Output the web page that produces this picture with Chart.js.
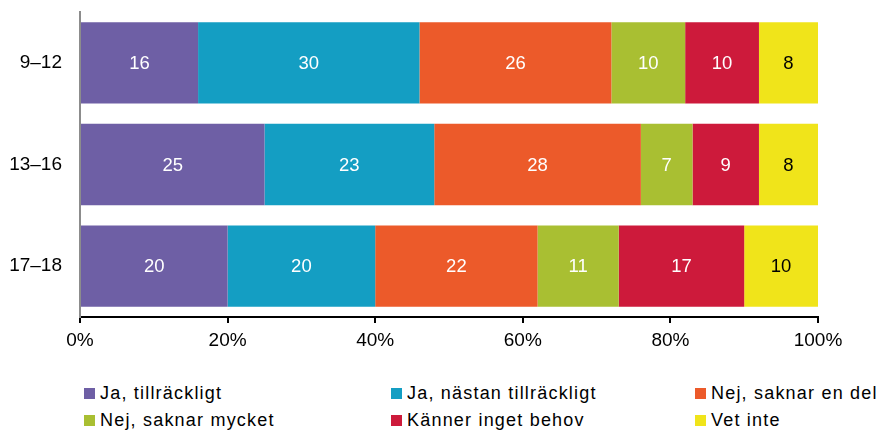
<!DOCTYPE html>
<html>
<head>
<meta charset="utf-8">
<script src="https://cdn.jsdelivr.net/npm/chart.js@4/dist/chart.umd.min.js"></script>
<style>
  body { margin: 0; background: #fff; }
  #wrap { position: relative; width: 884px; height: 431px; }
  #legend {
    position: absolute; left: 84px; top: 380px;
    display: grid; grid-template-columns: 307px 304px auto; grid-auto-rows: 27px;
    font-family: "Liberation Sans", Arial, sans-serif; font-size: 18px; letter-spacing: 1.2px; color: #000;
  }
  #legend div { display: flex; align-items: center; white-space: nowrap; }
  #legend span.box { width: 11px; height: 11px; margin-right: 5px; display: inline-block; }
</style>
</head>
<body>
<div id="wrap">
  <canvas id="chart" width="884" height="360"></canvas>
  <div id="legend"></div>
</div>
<script>
const ages = ['9–12', '13–16', '17–18'];
const seriesNames = ['Ja, tillräckligt', 'Ja, nästan tillräckligt', 'Nej, saknar en del',
                     'Nej, saknar mycket', 'Känner inget behov', 'Vet inte'];
const jaTillrackligt = [16, 25, 20];
const jaNastan = [30, 23, 20];
const nejEnDel = [26, 28, 22];
const nejMycket = [10, 7, 11];
const ingetBehov = [10, 9, 17];
const vetInte = [8, 8, 10];
const xTicks = [0, 20, 40, 60, 80, 100];

const colors = ['#6e5fa5', '#149ec3', '#ec5a2a', '#a9bf32', '#cd1a3b', '#f0e41a'];
const labelColors = ['#fff', '#fff', '#fff', '#fff', '#fff', '#000'];
const values = [jaTillrackligt, jaNastan, nejEnDel, nejMycket, ingetBehov, vetInte];

const font = "Liberation Sans, Arial, sans-serif";

// write the numbers in the middle of each bar piece
const barLabels = {
  id: 'barLabels',
  afterDatasetsDraw(chart) {
    const ctx = chart.ctx;
    ctx.save();
    ctx.font = '18.5px ' + font;
    ctx.textAlign = 'center';
    ctx.textBaseline = 'middle';
    chart.data.datasets.forEach((ds, i) => {
      chart.getDatasetMeta(i).data.forEach((bar, j) => {
        ctx.fillStyle = labelColors[i];
        ctx.fillText(ds.data[j], (bar.x + bar.base) / 2, bar.y + 1);
      });
    });
    ctx.restore();
  }
};

new Chart(document.getElementById('chart'), {
  type: 'bar',
  data: {
    labels: ages,
    datasets: seriesNames.map((name, i) => ({
      label: name,
      data: values[i],
      backgroundColor: colors[i],
      categoryPercentage: 0.8,
      barPercentage: 1
    }))
  },
  options: {
    indexAxis: 'y',
    responsive: false,
    animation: false,
    devicePixelRatio: 1,
    layout: { padding: { top: 12, right: 66, left: 0, bottom: 0 } },
    plugins: { legend: { display: false }, tooltip: { enabled: false } },
    scales: {
      x: {
        stacked: true,
        min: 0, max: 100,
        afterBuildTicks(scale) { scale.ticks = xTicks.map(v => ({ value: v })); },
        afterFit(scale) { scale.height = 43; scale.paddingLeft = 0; scale.paddingRight = 0; },
        border: { color: '#000', width: 2 },
        grid: { drawOnChartArea: false, drawTicks: true, tickLength: 6, color: '#000', lineWidth: 2 },
        ticks: { color: '#000', font: { family: font, size: 19 }, padding: 6, maxRotation: 0,
                 callback: v => v + '%' }
      },
      y: {
        stacked: true,
        afterFit(scale) { scale.width = 80; scale.paddingTop = 0; scale.paddingBottom = 0; },
        border: { color: '#8c8c8c', width: 2 },
        grid: { drawOnChartArea: false, drawTicks: false },
        ticks: { color: '#000', font: { family: font, size: 19 }, padding: 18 }
      }
    }
  },
  plugins: [barLabels]
});

// legend in three columns, like the original
const legend = document.getElementById('legend');
seriesNames.forEach((name, i) => {
  const item = document.createElement('div');
  item.innerHTML = '<span class="box" style="background:' + colors[i] + '"></span>' + name;
  legend.appendChild(item);
});
</script>
</body>
</html>
